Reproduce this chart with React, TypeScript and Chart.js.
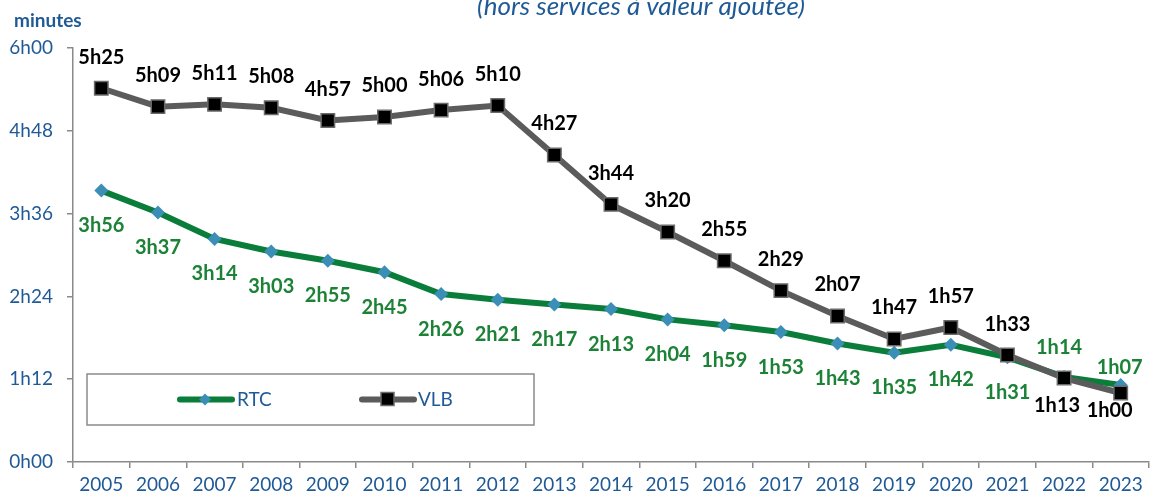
import React, { useEffect, useRef } from "react";
import { Chart, registerables } from "chart.js";

Chart.register(...registerables);

const years = ["2005","2006","2007","2008","2009","2010","2011","2012","2013","2014","2015","2016","2017","2018","2019","2020","2021","2022","2023"];
// minutes
const rtcMinutes = [236, 217, 194, 183, 175, 165, 146, 141, 137, 133, 124, 119, 113, 103, 95, 102, 91, 74, 67];
const vlbMinutes = [325, 309, 311, 308, 297, 300, 306, 310, 267, 224, 200, 175, 149, 127, 107, 117, 93, 73, 60];
const yTickValues = [0, 72, 144, 216, 288, 360];

const titleText = "(hors services à valeur ajoutée)";
const unitText = "minutes";

const FONT = "Lato, 'Open Sans', sans-serif";
const BLUE = "#1f5a96";
const GREEN_LINE = "#0b7d3b";
const GREEN_TEXT = "#1b8236";
const DIAMOND = "#3b8fb6";
const GREY_LINE = "#5b5b5b";

const fmt = (v: number) => `${Math.floor(v / 60)}h${String(Math.round(v % 60)).padStart(2, "0")}`;

// label placement overrides: [dx, dy]
const rtcOffsets: Record<number, [number, number]> = { 17: [-5, -29], 18: [-1, -17] };
const vlbOffsets: Record<number, [number, number]> = { 17: [-7, 27], 18: [-11, 18] };

const labelsPlugin = {
  id: "pointLabels",
  afterDatasetsDraw(chart: any) {
    const ctx = chart.ctx;
    ctx.save();
    ctx.font = `bold 20px ${FONT}`;
    ctx.textAlign = "center";
    ctx.textBaseline = "middle";
    chart.data.datasets.forEach((ds: any, di: number) => {
      const meta = chart.getDatasetMeta(di);
      const isRtc = ds.label === "RTC";
      meta.data.forEach((pt: any, i: number) => {
        const v = ds.data[i];
        let off: [number, number] = isRtc ? [0, 35] : [0, -31];
        const ov = isRtc ? rtcOffsets[i] : vlbOffsets[i];
        if (ov) off = ov;
        ctx.fillStyle = isRtc ? GREEN_TEXT : "#000";
        ctx.fillText(fmt(v), pt.x + off[0], pt.y + off[1]);
      });
    });
    ctx.restore();
  },
  afterDraw(chart: any) {
    const ctx = chart.ctx;
    ctx.save();
    // title (cropped at the top)
    ctx.font = `italic 26px ${FONT}`;
    ctx.fillStyle = BLUE;
    ctx.textAlign = "center";
    ctx.textBaseline = "alphabetic";
    ctx.fillText(titleText, 641, 15);
    // unit
    ctx.font = `bold 19px ${FONT}`;
    ctx.textAlign = "left";
    ctx.fillText(unitText, 14, 27);

    // legend box
    ctx.fillStyle = "#fff";
    ctx.fillRect(87, 374, 447, 51);
    ctx.strokeStyle = "#8a8a8a";
    ctx.lineWidth = 1.5;
    ctx.strokeRect(87, 374, 447, 51);
    const ly = 399.5;
    // RTC
    ctx.lineCap = "round";
    ctx.strokeStyle = GREEN_LINE;
    ctx.lineWidth = 6;
    ctx.beginPath();
    ctx.moveTo(180, ly);
    ctx.lineTo(232, ly);
    ctx.stroke();
    ctx.fillStyle = DIAMOND;
    ctx.beginPath();
    ctx.moveTo(205, ly - 6);
    ctx.lineTo(211, ly);
    ctx.lineTo(205, ly + 6);
    ctx.lineTo(199, ly);
    ctx.closePath();
    ctx.fill();
    // VLB
    ctx.strokeStyle = GREY_LINE;
    ctx.beginPath();
    ctx.moveTo(362, ly);
    ctx.lineTo(414, ly);
    ctx.stroke();
    ctx.fillStyle = "#000";
    ctx.fillRect(381, ly - 7, 13, 13);
    ctx.strokeStyle = "#6a6a6a";
    ctx.lineWidth = 1.5;
    ctx.strokeRect(381, ly - 7, 13, 13);
    ctx.font = `19px ${FONT}`;
    ctx.fillStyle = BLUE;
    ctx.textBaseline = "middle";
    ctx.fillText("RTC", 237, ly);
    ctx.fillText("VLB", 418, ly);
    ctx.restore();
  },
};

export default function App() {
  const ref = useRef<HTMLCanvasElement | null>(null);
  useEffect(() => {
    if (!ref.current) return;
    const chart = new Chart(ref.current, {
      type: "line",
      data: {
        labels: years,
        datasets: [
          {
            label: "VLB",
            data: vlbMinutes,
            borderColor: GREY_LINE,
            borderWidth: 6,
            pointStyle: "rect",
            pointRadius: 9.5,
            pointBackgroundColor: "#000",
            pointBorderColor: "#6a6a6a",
            pointBorderWidth: 1.5,
            tension: 0,
            order: 0,
          },
          {
            label: "RTC",
            data: rtcMinutes,
            borderColor: GREEN_LINE,
            borderWidth: 6,
            pointStyle: "rectRot",
            pointRadius: 7,
            pointBackgroundColor: DIAMOND,
            pointBorderColor: DIAMOND,
            pointBorderWidth: 0,
            tension: 0,
            order: 1,
          },
        ],
      },
      options: {
        responsive: false,
        animation: false,
        layout: { padding: { top: 48, right: 5, left: 0, bottom: 0 } },
        plugins: { legend: { display: false }, tooltip: { enabled: false }, title: { display: false } },
        scales: {
          x: {
            offset: true,
            grid: { display: true, drawOnChartArea: false, drawTicks: true, tickLength: 6, color: "#8a8a8a", lineWidth: 1.5, offset: true },
            border: { display: true, color: "#8a8a8a", width: 1.5 },
            ticks: { color: BLUE, font: { family: FONT, size: 19 }, padding: 5, maxRotation: 0, autoSkip: false },
            afterFit: (s: any) => { s.height = 36; },
          },
          y: {
            min: 0,
            max: 360,
            afterBuildTicks: (s: any) => { s.ticks = yTickValues.map((v) => ({ value: v })); },
            grid: { display: true, drawOnChartArea: false, drawTicks: true, tickLength: 6, color: "#8a8a8a", lineWidth: 1.5 },
            border: { display: true, color: "#8a8a8a", width: 1.5 },
            ticks: { color: BLUE, font: { family: FONT, size: 19 }, padding: 14, callback: (v: any) => fmt(Number(v)) },
            afterFit: (s: any) => { s.width = 73; },
          },
        },
      },
      plugins: [labelsPlugin],
    });
    return () => chart.destroy();
  }, []);
  return (
    <div style={{ position: "fixed", left: 0, top: 0, width: 1154, height: 498, overflow: "hidden", background: "#fff" }}>
      <canvas ref={ref} width={1160} height={498} style={{ display: "block", width: 1160, height: 498 }} />
    </div>
  );
}
